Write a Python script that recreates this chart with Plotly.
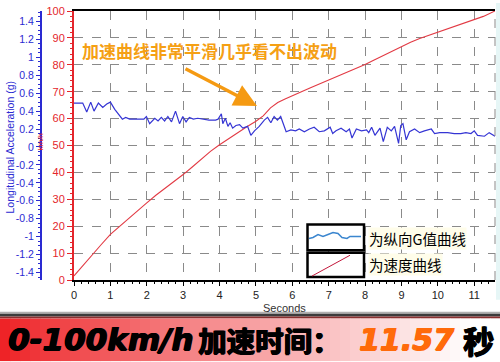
import plotly.graph_objects as go

# ---------------- data ----------------
# speed curve (km/h) vs time (s)
time_s = [0, 0.25, 0.5, 0.75, 1.0, 1.25, 1.5, 1.75, 2.0, 2.25, 2.5, 2.75, 3.0, 3.25,
          3.5, 3.75, 4.0, 4.25, 4.5, 4.75, 5.0, 5.2, 5.4, 5.6, 5.8, 6.0, 6.25, 6.5,
          6.75, 7.0, 7.25, 7.5, 7.75, 8.0, 8.25, 8.5, 8.75, 9.0, 9.25, 9.5, 9.75,
          10.0, 10.25, 10.5, 10.75, 11.0, 11.25, 11.57]
speed_kmh = [1.5, 5.5, 9.2, 13.2, 17.0, 20.0, 23.0, 26.0, 28.7, 31.5, 34.0, 36.6, 39.2, 42.0,
             45.0, 47.8, 50.3, 52.6, 55.0, 57.0, 59.0, 61.0, 64.0, 66.0, 67.3, 68.4, 70.0, 71.5,
             72.9, 74.3, 75.8, 77.2, 78.6, 80.1, 81.8, 83.5, 85.3, 87.0, 88.4, 89.8, 91.0,
             92.2, 93.4, 94.6, 95.7, 96.8, 98.0, 100.0]

# longitudinal acceleration (g) vs time (s)
time_g = [0, 0.24, 0.35, 0.46, 0.55, 0.67, 0.79, 0.90, 1.00, 1.12,
          1.33, 1.42, 1.53, 1.67, 1.81, 1.92, 1.99, 2.08, 2.22, 2.31,
          2.40, 2.49, 2.58, 2.68, 2.79, 2.90, 2.99, 3.08, 3.17, 3.28,
          3.40, 3.53, 3.71, 3.89, 3.96, 4.05, 4.09, 4.16, 4.23, 4.29,
          4.36, 4.45, 4.55, 4.64, 4.77, 4.86, 4.96, 5.09, 5.23, 5.32,
          5.41, 5.50, 5.59, 5.68, 5.78, 5.83, 5.96, 6.09, 6.19, 6.33,
          6.47, 6.60, 6.74, 6.88, 7.04, 7.11, 7.20, 7.34, 7.48, 7.57,
          7.64, 7.76, 7.90, 8.04, 8.10, 8.18, 8.27, 8.41, 8.50, 8.61,
          8.72, 8.81, 8.92, 8.98, 9.04, 9.13, 9.22, 9.36, 9.50, 9.63,
          9.82, 9.91, 10.05, 10.27, 10.45, 10.63, 10.77, 10.91, 11.00, 11.09,
          11.28, 11.41, 11.57]
accel_g = [0.49, 0.49, 0.39, 0.50, 0.40, 0.49, 0.44, 0.48, 0.50, 0.42,
           0.31, 0.33, 0.31, 0.31, 0.31, 0.31, 0.34, 0.26, 0.32, 0.29,
           0.33, 0.29, 0.34, 0.28, 0.40, 0.26, 0.34, 0.28, 0.33, 0.31,
           0.32, 0.31, 0.30, 0.30, 0.31, 0.37, 0.26, 0.32, 0.23, 0.27,
           0.21, 0.24, 0.25, 0.21, 0.23, 0.13, 0.18, 0.23, 0.30, 0.33,
           0.27, 0.34, 0.30, 0.34, 0.24, 0.17, 0.19, 0.18, 0.20, 0.17,
           0.20, 0.22, 0.17, 0.18, 0.22, 0.15, 0.18, 0.21, 0.17, 0.20,
           0.10, 0.20, 0.18, 0.19, 0.16, 0.22, 0.13, 0.21, 0.06, 0.22,
           0.18, 0.23, 0.04, 0.24, 0.26, 0.08, 0.17, 0.20, 0.16, 0.18,
           0.20, 0.15, 0.16, 0.16, 0.15, 0.15, 0.16, 0.15, 0.18, 0.13,
           0.12, 0.16, 0.12]

x_tick_vals = list(range(12))
speed_tick_vals = list(range(0, 101, 10))
g_tick_vals = [1.4, 1.2, 1.0, 0.8, 0.6, 0.4, 0.2, 0, -0.2, -0.4, -0.6, -0.8, -1.0, -1.2, -1.4]
g_tick_text = ["1.4", "1.2", "1", "0.8", "0.6", "0.4", "0.2", "0", "-0.2", "-0.4",
               "-0.6", "-0.8", "-1", "-1.2", "-1.4"]

# ---------------- layout helpers ----------------
W, H = 500, 362
ML, MR, MT, MB = 41, 5, 8, 82
PW = W - ML - MR
PH = H - MT - MB


def px(x):
    return (x - ML) / PW


def py(y):
    return (H - MB - y) / PH


FONT = "Liberation Sans, Arial, sans-serif"
CJK = "Noto Sans CJK SC, sans-serif"
RED = "#e4262c"
BLUE = "#2a2ad2"
GRID = "#8a8a8a"
HEAVY_BLACK = "0.9px 0 0 #000, -0.6px 0 0 #000, 0 0.6px 0 #000"
HEAVY_ORANGE = "0.9px 0 0 #ff6a0a, -0.6px 0 0 #ff6a0a, 0 0.6px 0 #ff6a0a"

fig = go.Figure()
fig.add_trace(go.Scatter(x=time_s, y=speed_kmh, mode="lines",
                         line=dict(color="#e23a44", width=1.1),
                         showlegend=False, hoverinfo="skip"))
fig.add_trace(go.Scatter(x=time_g, y=accel_g, yaxis="y2", mode="lines",
                         line=dict(color="#3535d4", width=1.2),
                         showlegend=False, hoverinfo="skip"))

shapes = []
# right edge dashed line + pale strip
shapes.append(dict(type="rect", xref="paper", yref="paper", x0=px(496), x1=px(500),
                   y0=py(300), y1=py(0), fillcolor="#e6f6f6", line=dict(width=0), layer="below"))
shapes.append(dict(type="line", xref="paper", yref="paper", x0=1, x1=1, y0=0, y1=1,
                   line=dict(color=GRID, width=1, dash="dash")))

# legend boxes
shapes.append(dict(type="rect", xref="paper", yref="paper", x0=px(307.5), x1=px(364),
                   y0=py(250), y1=py(224), fillcolor="white", line=dict(color="black", width=2.5)))
shapes.append(dict(type="rect", xref="paper", yref="paper", x0=px(307.5), x1=px(364),
                   y0=py(277), y1=py(252.5), fillcolor="white", line=dict(color="black", width=2.5)))
wave = [(309, 238), (313, 237), (318, 234), (323, 236), (328, 234), (333, 232), (338, 233),
        (342, 237), (347, 238), (350, 236), (355, 236), (361, 236)]
path = "M " + " L ".join(f"{px(a):.5f},{py(b):.5f}" for a, b in wave)
shapes.append(dict(type="path", xref="paper", yref="paper", path=path,
                   line=dict(color="#3b86cf", width=1.5)))
shapes.append(dict(type="line", xref="paper", yref="paper", x0=px(312), y0=py(276),
                   x1=px(350), y1=py(255), line=dict(color="#c3163a", width=1)))

# bottom banner: shadow band + red-to-white gradient
shapes.append(dict(type="rect", xref="paper", yref="paper", x0=px(0), x1=px(500),
                   y0=py(314), y1=py(312), fillcolor="#b0b0b0", line=dict(width=0)))
shapes.append(dict(type="rect", xref="paper", yref="paper", x0=px(0), x1=px(500),
                   y0=py(317), y1=py(314), fillcolor="#3c3c3c", line=dict(width=0)))
shapes.append(dict(type="rect", xref="paper", yref="paper", x0=px(0), x1=px(500),
                   y0=py(319), y1=py(317), fillcolor="#8a3030", line=dict(width=0)))
N = 50
c0 = (238, 32, 36)
c1 = (255, 255, 255)
for i in range(N):
    xa = i * W / N
    xb = (i + 1) * W / N + 0.6
    t = min(1.0, (xa + W / N / 2) / 470) ** 0.9
    col = tuple(int(c0[k] + (c1[k] - c0[k]) * t) for k in range(3))
    shapes.append(dict(type="rect", xref="paper", yref="paper", x0=px(xa), x1=px(xb),
                       y0=py(362), y1=py(319), fillcolor=f"rgb{col}", line=dict(width=0)))

annotations = []
# axis titles
annotations.append(dict(text="Longitudinal Acceleration (g)", xref="paper", yref="paper",
                        x=px(10), y=py(146), textangle=-90, showarrow=False,
                        xanchor="center", yanchor="middle",
                        font=dict(family=FONT, size=10.5, color=BLUE)))
annotations.append(dict(text="km/h", xref="paper", yref="paper",
                        x=px(41), y=py(141), textangle=-90, showarrow=False,
                        xanchor="center", yanchor="middle",
                        font=dict(family=FONT, size=8, color=RED)))
annotations.append(dict(text="Seconds", xref="paper", yref="paper",
                        x=px(284.5), y=py(308), showarrow=False,
                        xanchor="center", yanchor="middle",
                        font=dict(family=FONT, size=11, color="#333333")))
# callout
annotations.append(dict(text="加速曲线非常平滑几乎看不出波动", xref="paper", yref="paper",
                        x=px(80), y=py(48), showarrow=False, xanchor="left", yanchor="middle",
                        font=dict(family=CJK, size=17, color="#f5a014", weight="bold")))
annotations.append(dict(text="", xref="paper", yref="paper", x=px(257), y=py(104),
                        ax=-73, ay=-38, showarrow=True, arrowhead=2, arrowsize=1.3,
                        arrowwidth=3.5, arrowcolor="#f59a12"))
# legend texts
annotations.append(dict(text="为纵向G值曲线", xref="paper", yref="paper",
                        x=px(368), y=py(238), showarrow=False, xanchor="left", yanchor="middle",
                        bgcolor="#fffdea", borderpad=0,
                        font=dict(family=CJK, size=14.5, color="black")))
annotations.append(dict(text="为速度曲线", xref="paper", yref="paper",
                        x=px(368), y=py(264), showarrow=False, xanchor="left", yanchor="middle",
                        bgcolor="#fffdea", borderpad=0,
                        font=dict(family=CJK, size=14.5, color="black")))
# banner texts
annotations.append(dict(text="0-100km/h", xref="paper", yref="paper",
                        x=px(6), y=py(340), showarrow=False, xanchor="left", yanchor="middle",
                        font=dict(family="DejaVu Sans, sans-serif", size=31, color="black",
                                  weight="bold", style="italic", shadow=HEAVY_BLACK)))
annotations.append(dict(text="加速时间：", xref="paper", yref="paper",
                        x=px(196), y=py(340), showarrow=False, xanchor="left", yanchor="middle",
                        font=dict(family=CJK, size=28.5, color="black", weight="bold",
                                  shadow=HEAVY_BLACK)))
annotations.append(dict(text="11.57", xref="paper", yref="paper",
                        x=px(357), y=py(340), showarrow=False, xanchor="left", yanchor="middle",
                        font=dict(family="DejaVu Sans, sans-serif", size=30, color="#ff6a0a",
                                  weight="bold", style="italic", shadow=HEAVY_ORANGE)))
annotations.append(dict(text="秒", xref="paper", yref="paper",
                        x=px(461), y=py(340), showarrow=False, xanchor="left", yanchor="middle",
                        font=dict(family=CJK, size=31, color="black", weight="bold",
                                  shadow=HEAVY_BLACK)))

fig.update_layout(
    width=W, height=H,
    margin=dict(l=ML, r=MR, t=MT, b=MB, pad=0),
    paper_bgcolor="white", plot_bgcolor="white",
    showlegend=False,
    xaxis=dict(domain=[px(74), 1], range=[0, 11.57], tickvals=x_tick_vals,
               showline=True, linecolor="black", linewidth=2, mirror=True,
               ticks="outside", ticklen=4, tickcolor="black", tickwidth=1,
               minor=dict(dtick=0.2, tick0=0, ticks="outside", ticklen=2, tickcolor="black"),
               showgrid=True, gridcolor=GRID, griddash="dash", gridwidth=1,
               zeroline=False, tickfont=dict(family=FONT, size=11, color="#222222")),
    yaxis=dict(range=[0, 100], tickvals=speed_tick_vals, anchor="x", side="left",
               showline=True, linecolor=RED, linewidth=2,
               ticks="outside", ticklen=5, tickcolor=RED,
               minor=dict(dtick=2, tick0=0, ticks="outside", ticklen=2.5, tickcolor=RED),
               showgrid=True, gridcolor=GRID, griddash="dash", gridwidth=1,
               zeroline=False, tickfont=dict(family=FONT, size=11, color=RED)),
    yaxis2=dict(range=[-1.483, 1.516], overlaying="y", anchor="free", position=0, side="left",
                tickvals=g_tick_vals, ticktext=g_tick_text,
                showline=True, linecolor=BLUE, linewidth=2,
                ticks="outside", ticklen=4, tickcolor=BLUE,
                minor=dict(dtick=0.05, tick0=0, ticks="outside", ticklen=2, tickcolor=BLUE),
                showgrid=False, zeroline=False,
                tickfont=dict(family=FONT, size=10.5, color=BLUE)),
    shapes=shapes,
    annotations=annotations,
)

fig.write_html("out.html", config={"displayModeBar": False},
               post_script="document.body.style.margin='0';document.body.style.overflow='hidden';")
